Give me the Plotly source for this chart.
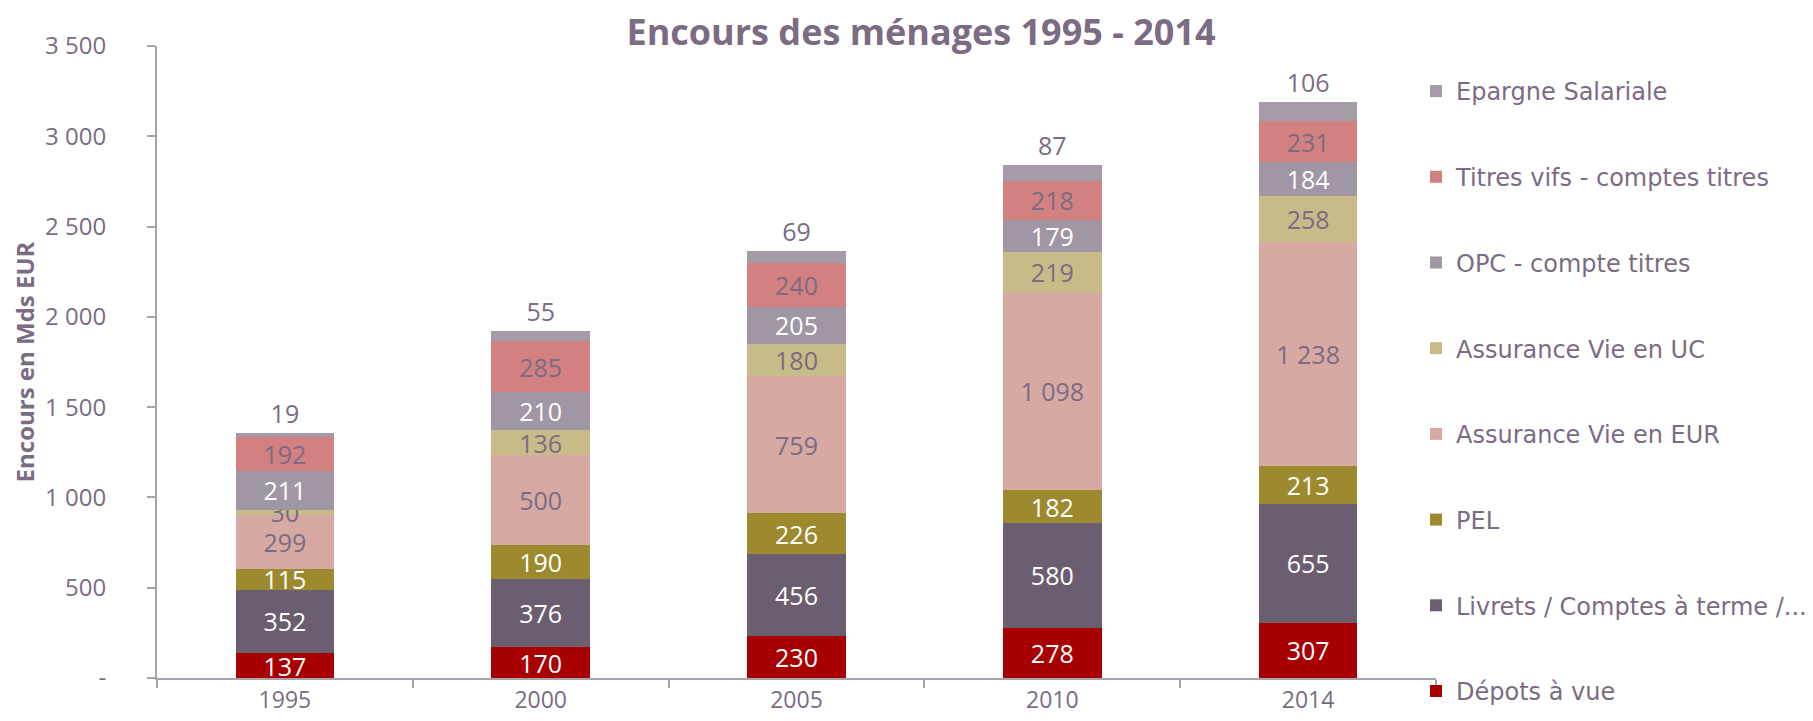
import plotly.graph_objects as go

years = ["1995", "2000", "2005", "2010", "2014"]

series_names = [
    "Dépots à vue",
    "Livrets / Comptes à terme /...",
    "PEL",
    "Assurance Vie en EUR",
    "Assurance Vie en UC",
    "OPC - compte titres",
    "Titres vifs - comptes titres",
    "Epargne Salariale",
]

depots = [137, 170, 230, 278, 307]
livrets = [352, 376, 456, 580, 655]
pel = [115, 190, 226, 182, 213]
av_eur = [299, 500, 759, 1098, 1238]
av_uc = [30, 136, 180, 219, 258]
opc = [211, 210, 205, 179, 184]
titres = [192, 285, 240, 218, 231]
epargne = [19, 55, 69, 87, 106]

y_tickvals = [0, 500, 1000, 1500, 2000, 2500, 3000, 3500]
y_ticktext = ["-", "500", "1 000", "1 500", "2 000", "2 500", "3 000", "3 500"]

all_values = [depots, livrets, pel, av_eur, av_uc, opc, titres, epargne]
colors = ["#A80000", "#6B5E70", "#9E8A2E", "#D6A9A2", "#C7BB88", "#A196A3", "#D28080", "#A49BA7"]
label_colors = ["#FFFFFF", "#FFFFFF", "#FFFFFF", "#7B6C84", "#7B6C84", "#FFFFFF", "#7B6C84", "#7B6C84"]

TXT = "#7B6C84"
FONT = "Open Sans"
LFONT = "DejaVu Sans"
AX = "#A8A2AE"

# page body has an 8px margin: the figure is sized/positioned to compensate
W, H = 1805, 713


def fmt(v):
    return f"{v:,}".replace(",", " ")


fig = go.Figure()
n = len(series_names)
for i, (name, vals, col, lc) in enumerate(zip(series_names, all_values, colors, label_colors)):
    top = i == n - 1
    fig.add_trace(go.Bar(
        x=years,
        y=vals,
        name=name,
        legendgroup=name,
        legendrank=100 - i,
        marker=dict(color=col, line=dict(width=0)),
        text=[fmt(v) for v in vals],
        textposition="outside" if top else "inside",
        insidetextanchor="middle",
        textangle=0,
        textfont=dict(family=FONT, size=25, color=lc if not top else TXT),
        cliponaxis=False,
    ))

fig.update_layout(
    width=W,
    height=H,
    barmode="stack",
    bargap=0.615,
    plot_bgcolor="white",
    paper_bgcolor="white",
    margin=dict(l=149, r=377, t=38, b=43, autoexpand=False),
    font=dict(family=FONT, color=TXT, size=22),
    uniformtext=dict(minsize=25, mode="show"),
    title=dict(
        text="<b>Encours des ménages 1995 - 2014</b>",
        x=913 / W, xanchor="center", xref="container",
        y=1 - 24 / H, yanchor="middle", yref="container",
        font=dict(family=FONT, size=36, color=TXT),
    ),
    legend=dict(
        traceorder="grouped",
        x=1408 / W, xanchor="left", xref="container",
        y=1 - 61 / H, yanchor="top", yref="container",
        font=dict(family=LFONT, size=24, color=TXT),
        tracegroupgap=51.5,
        maxheight=H,
        bgcolor="rgba(0,0,0,0)",
    ),
    xaxis=dict(
        showline=True, linecolor=AX, linewidth=2,
        ticks="outside", tickson="boundaries", ticklen=8, tickcolor=AX, tickwidth=2,
        tickfont=dict(family=FONT, size=23, color=TXT),
        showgrid=False,
    ),
    yaxis=dict(
        range=[0, 3500],
        tickvals=y_tickvals, ticktext=y_ticktext,
        showline=True, linecolor=AX, linewidth=2,
        ticks="outside", ticklen=8, tickcolor=AX, tickwidth=2,
        ticklabelstandoff=36,
        tickfont=dict(family=FONT, size=24, color=TXT),
        showgrid=False, zeroline=False,
        title=dict(text="<b>Encours en Mds EUR</b>", font=dict(family=FONT, size=24, color=TXT), standoff=10),
    ),
)

fig.write_html("out.html")
